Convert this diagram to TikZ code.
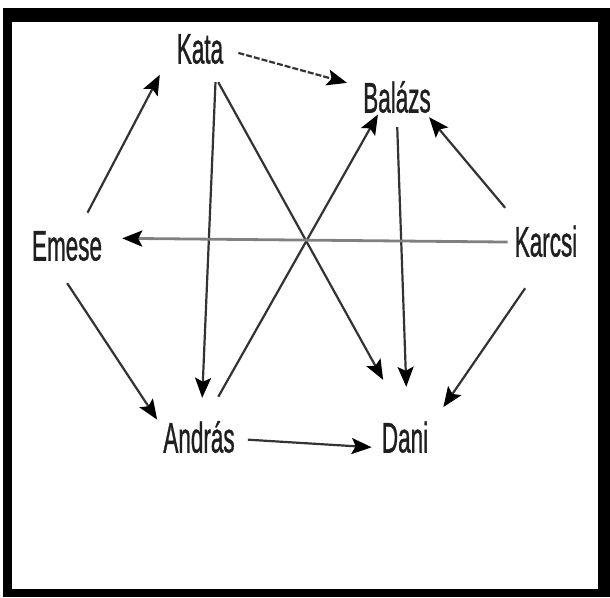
\documentclass[tikz,border=0pt]{standalone}
\usepackage{fontspec}
\setmainfont{Liberation Sans}[FakeBold=1.2]
\usepackage{graphicx}
\usetikzlibrary{arrows.meta}
\begin{document}
\begin{tikzpicture}[x=1pt,y=-1pt,
  person/.style={inner sep=0pt, text height=31pt, text depth=0pt,
    font=\fontsize{22.5}{27}\selectfont, text=black!88},
  arr/.style={draw=black!80, line width=2.2pt,
    -{Stealth[length=20pt,width=16pt,inset=4pt,color=black]}},
  grayarr/.style={arr, draw=black!50, line width=2.8pt},
  dasharr/.style={arr, dash pattern=on 6pt off 2pt}
]
\useasboundingbox (0,0) rectangle (610,597);
\fill[white] (0,0) rectangle (610,597);
\fill[black] (3,8) rectangle (610,597);
\fill[white] (12,22) rectangle (598,589);

\node[person] (kata)   at (200,48)  {\scalebox{1}[1.9]{Kata}};
\node[person] (balazs) at (397,97)  {\scalebox{1}[1.9]{Balázs}};
\node[person] (karcsi) at (546,241) {\scalebox{1}[1.9]{Karcsi}};
\node[person] (emese)  at (67,245)  {\scalebox{1}[1.9]{Emese}};
\node[person] (andras) at (199,437) {\scalebox{1}[1.9]{András}};
\node[person] (dani)   at (405,437) {\scalebox{1}[1.9]{Dani}};

\draw[dasharr, shorten <=15.6pt, shorten >=16.6pt] (kata.-2.2) -- (balazs.164.2);
\draw[arr, shorten <=18.7pt, shorten >=36.3pt] (emese.53.9) -- (kata.167.5);
\draw[arr, shorten <=26.9pt, shorten >=10.9pt] (emese.-133.7) -- (andras.167.6);
\draw[arr, shorten <=18.5pt, shorten >=23.5pt] (kata.-44.4) -- (andras.82.6);
\draw[arr, shorten <=21.1pt, shorten >=47.4pt] (kata.-63.3) -- (dani.86.3);
\draw[arr, shorten <=28.2pt, shorten >=2pt] (andras.71.8) -- (balazs.-139.6);
\draw[arr, shorten <=14.5pt, shorten >=34.5pt] (balazs.-91.8) -- (dani.81.9);
\draw[arr, shorten <=22.9pt, shorten >=5.9pt] (karcsi.149.4) -- (balazs.-29.7);
\draw[grayarr, shorten <=7pt, shorten >=20pt] (karcsi.-178) -- (emese.11.6);
\draw[arr, shorten <=38.3pt, shorten >=26.5pt] (karcsi.-87.4) -- (dani.19.6);
\draw[arr, shorten <=13pt, shorten >=10pt] (andras.-3.7) -- (dani.-155.3);
\end{tikzpicture}
\end{document}
